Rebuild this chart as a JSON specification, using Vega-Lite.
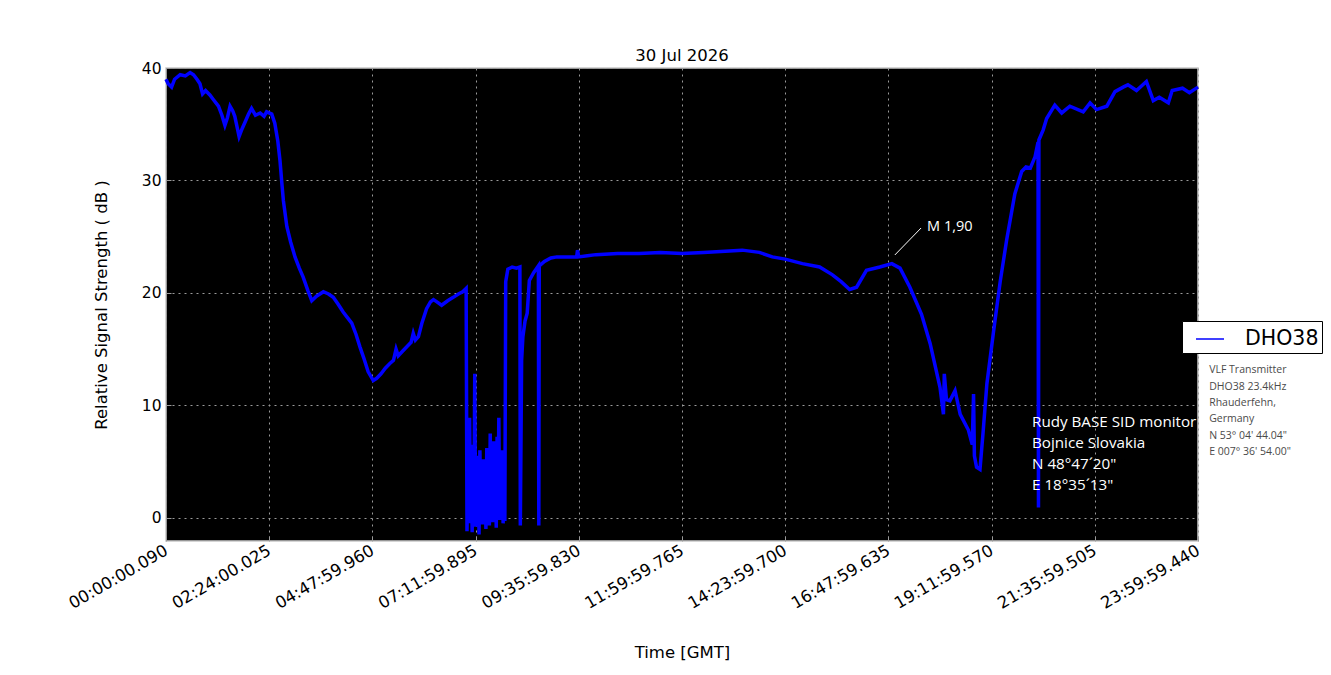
{
  "$schema": "https://vega.github.io/schema/vega-lite/v6.json",
  "description": "VLF SID monitor, DHO38 signal strength, 30 Jul 2026",
  "autosize": {"type": "none"},
  "padding": {"left": 166, "top": 68, "right": 133, "bottom": 134},
  "width": 1032,
  "height": 473,
  "background": "white",
  "title": {"text": "30 Jul 2026", "font": "DejaVu Sans", "fontSize": 16.5, "fontWeight": "normal", "color": "black", "offset": -3},
  "config": {
    "view": {"fill": "black", "stroke": "#c8c8c8", "strokeWidth": 1.5},
    "axis": {
      "labelFont": "DejaVu Sans",
      "labelFontSize": 15.5,
      "labelColor": "black",
      "titleFont": "DejaVu Sans",
      "titleFontSize": 16.5,
      "titleFontWeight": "normal",
      "titleColor": "black",
      "domain": false,
      "grid": true,
      "gridColor": "#9a9a9a",
      "gridDash": [2, 4],
      "gridWidth": 1,
      "tickColor": "#9a9a9a",
      "tickSize": -5
    }
  },
  "layer": [
    {
      "data": {
        "values": [
          {"h": 0.00, "v": 39.0}, {"h": 0.05, "v": 38.6}, {"h": 0.13, "v": 38.3}, {"h": 0.20, "v": 39.0},
          {"h": 0.33, "v": 39.4}, {"h": 0.45, "v": 39.3}, {"h": 0.56, "v": 39.6}, {"h": 0.64, "v": 39.4},
          {"h": 0.72, "v": 39.0}, {"h": 0.79, "v": 38.6}, {"h": 0.85, "v": 37.7}, {"h": 0.92, "v": 38.0},
          {"h": 1.02, "v": 37.6}, {"h": 1.10, "v": 37.2}, {"h": 1.22, "v": 36.6}, {"h": 1.30, "v": 35.8},
          {"h": 1.37, "v": 34.9}, {"h": 1.43, "v": 35.6}, {"h": 1.49, "v": 36.6}, {"h": 1.55, "v": 36.2},
          {"h": 1.60, "v": 35.7}, {"h": 1.65, "v": 34.8}, {"h": 1.70, "v": 33.9}, {"h": 1.77, "v": 34.6},
          {"h": 1.84, "v": 35.2}, {"h": 1.92, "v": 35.9}, {"h": 1.99, "v": 36.4}, {"h": 2.08, "v": 35.8},
          {"h": 2.19, "v": 36.0}, {"h": 2.28, "v": 35.7}, {"h": 2.34, "v": 36.1}, {"h": 2.46, "v": 35.9},
          {"h": 2.53, "v": 35.1}, {"h": 2.60, "v": 33.5}, {"h": 2.65, "v": 31.8}, {"h": 2.70, "v": 29.5},
          {"h": 2.73, "v": 28.2}, {"h": 2.81, "v": 25.9}, {"h": 2.90, "v": 24.5}, {"h": 3.00, "v": 23.2},
          {"h": 3.10, "v": 22.2}, {"h": 3.19, "v": 21.4}, {"h": 3.30, "v": 20.2}, {"h": 3.39, "v": 19.3},
          {"h": 3.50, "v": 19.7}, {"h": 3.66, "v": 20.1}, {"h": 3.78, "v": 19.9}, {"h": 3.89, "v": 19.6},
          {"h": 4.00, "v": 19.0}, {"h": 4.12, "v": 18.3}, {"h": 4.22, "v": 17.8}, {"h": 4.32, "v": 17.3},
          {"h": 4.42, "v": 16.3}, {"h": 4.51, "v": 15.2}, {"h": 4.60, "v": 14.2}, {"h": 4.70, "v": 13.0},
          {"h": 4.82, "v": 12.2}, {"h": 4.90, "v": 12.4}, {"h": 5.00, "v": 12.8}, {"h": 5.10, "v": 13.3},
          {"h": 5.20, "v": 13.7}, {"h": 5.29, "v": 14.0}, {"h": 5.35, "v": 15.0}, {"h": 5.40, "v": 14.4},
          {"h": 5.50, "v": 14.8}, {"h": 5.60, "v": 15.2}, {"h": 5.70, "v": 15.6}, {"h": 5.75, "v": 16.4},
          {"h": 5.80, "v": 15.8}, {"h": 5.87, "v": 16.1}, {"h": 5.95, "v": 17.3}, {"h": 6.06, "v": 18.6},
          {"h": 6.15, "v": 19.2}, {"h": 6.22, "v": 19.4}, {"h": 6.30, "v": 19.2}, {"h": 6.41, "v": 18.9},
          {"h": 6.55, "v": 19.3}, {"h": 6.68, "v": 19.6}, {"h": 6.80, "v": 19.9}, {"h": 6.90, "v": 20.1},
          {"h": 6.98, "v": 20.4}, {"h": 7.00, "v": -1.2}, {"h": 7.02, "v": 5.0}, {"h": 7.04, "v": -0.5},
          {"h": 7.06, "v": 8.9}, {"h": 7.08, "v": 0.2}, {"h": 7.10, "v": 4.0}, {"h": 7.12, "v": -1.3},
          {"h": 7.14, "v": 6.5}, {"h": 7.16, "v": 0.0}, {"h": 7.18, "v": 12.8}, {"h": 7.20, "v": -0.8},
          {"h": 7.22, "v": 5.5}, {"h": 7.24, "v": 0.3}, {"h": 7.26, "v": 3.8}, {"h": 7.28, "v": -1.5},
          {"h": 7.30, "v": 6.0}, {"h": 7.32, "v": 0.5}, {"h": 7.34, "v": 4.5}, {"h": 7.36, "v": -0.6},
          {"h": 7.38, "v": 5.2}, {"h": 7.40, "v": 0.1}, {"h": 7.42, "v": 3.5}, {"h": 7.44, "v": -1.0},
          {"h": 7.46, "v": 6.2}, {"h": 7.48, "v": 0.4}, {"h": 7.50, "v": 4.8}, {"h": 7.52, "v": -0.7},
          {"h": 7.54, "v": 7.5}, {"h": 7.56, "v": 0.0}, {"h": 7.58, "v": 4.2}, {"h": 7.60, "v": -0.4},
          {"h": 7.62, "v": 6.8}, {"h": 7.64, "v": 0.3}, {"h": 7.66, "v": 5.5}, {"h": 7.68, "v": -0.9},
          {"h": 7.70, "v": 7.2}, {"h": 7.72, "v": 0.6}, {"h": 7.74, "v": 8.9}, {"h": 7.76, "v": -0.2},
          {"h": 7.78, "v": 5.8}, {"h": 7.80, "v": 0.0}, {"h": 7.82, "v": 6.0}, {"h": 7.84, "v": -0.5},
          {"h": 7.86, "v": 4.0}, {"h": 7.88, "v": -0.3}, {"h": 7.90, "v": 21.0}, {"h": 7.95, "v": 22.1},
          {"h": 8.05, "v": 22.3}, {"h": 8.15, "v": 22.2}, {"h": 8.23, "v": 22.3}, {"h": 8.24, "v": -0.7},
          {"h": 8.27, "v": 14.0}, {"h": 8.30, "v": 16.1}, {"h": 8.35, "v": 17.5}, {"h": 8.40, "v": 18.2},
          {"h": 8.45, "v": 21.1}, {"h": 8.55, "v": 21.8}, {"h": 8.66, "v": 22.4}, {"h": 8.67, "v": -0.7},
          {"h": 8.68, "v": 22.4}, {"h": 8.80, "v": 22.8}, {"h": 8.95, "v": 23.1}, {"h": 9.09, "v": 23.2},
          {"h": 9.30, "v": 23.2}, {"h": 9.55, "v": 23.2}, {"h": 9.57, "v": 23.8}, {"h": 9.60, "v": 23.2},
          {"h": 9.80, "v": 23.3}, {"h": 10.00, "v": 23.4}, {"h": 10.50, "v": 23.5}, {"h": 11.00, "v": 23.5},
          {"h": 11.50, "v": 23.6}, {"h": 12.00, "v": 23.5}, {"h": 12.50, "v": 23.6}, {"h": 13.00, "v": 23.7},
          {"h": 13.40, "v": 23.8}, {"h": 13.80, "v": 23.6}, {"h": 14.10, "v": 23.2}, {"h": 14.40, "v": 23.0},
          {"h": 14.80, "v": 22.6}, {"h": 15.20, "v": 22.3}, {"h": 15.50, "v": 21.6}, {"h": 15.70, "v": 21.0},
          {"h": 15.90, "v": 20.3}, {"h": 16.06, "v": 20.5}, {"h": 16.29, "v": 22.0}, {"h": 16.60, "v": 22.3},
          {"h": 16.88, "v": 22.6}, {"h": 17.07, "v": 22.2}, {"h": 17.30, "v": 20.5}, {"h": 17.57, "v": 18.1},
          {"h": 17.77, "v": 15.5}, {"h": 18.00, "v": 11.6}, {"h": 18.08, "v": 9.2}, {"h": 18.10, "v": 12.8},
          {"h": 18.15, "v": 10.5}, {"h": 18.23, "v": 10.4}, {"h": 18.35, "v": 11.3}, {"h": 18.47, "v": 9.2},
          {"h": 18.66, "v": 7.8}, {"h": 18.75, "v": 6.5}, {"h": 18.78, "v": 11.0}, {"h": 18.80, "v": 5.5},
          {"h": 18.85, "v": 4.5}, {"h": 18.93, "v": 4.3}, {"h": 19.00, "v": 7.5}, {"h": 19.09, "v": 11.9},
          {"h": 19.24, "v": 16.4}, {"h": 19.40, "v": 21.0}, {"h": 19.55, "v": 24.7}, {"h": 19.74, "v": 28.8},
          {"h": 19.90, "v": 30.8}, {"h": 20.00, "v": 31.2}, {"h": 20.10, "v": 31.1}, {"h": 20.21, "v": 32.1},
          {"h": 20.28, "v": 33.4}, {"h": 20.29, "v": 0.9}, {"h": 20.30, "v": 33.6}, {"h": 20.40, "v": 34.5},
          {"h": 20.48, "v": 35.5}, {"h": 20.67, "v": 36.7}, {"h": 20.83, "v": 36.0}, {"h": 21.02, "v": 36.6},
          {"h": 21.33, "v": 36.1}, {"h": 21.49, "v": 36.9}, {"h": 21.64, "v": 36.3}, {"h": 21.88, "v": 36.6},
          {"h": 22.07, "v": 37.9}, {"h": 22.26, "v": 38.3}, {"h": 22.37, "v": 38.5}, {"h": 22.57, "v": 38.0},
          {"h": 22.80, "v": 38.8}, {"h": 22.96, "v": 37.1}, {"h": 23.10, "v": 37.4}, {"h": 23.31, "v": 36.9},
          {"h": 23.40, "v": 38.0}, {"h": 23.64, "v": 38.2}, {"h": 23.80, "v": 37.8}, {"h": 24.00, "v": 38.3}
        ]
      },
      "transform": [{"calculate": "'DHO38'", "as": "station"}],
      "mark": {"type": "line", "strokeWidth": 3.5, "interpolate": "linear"},
      "encoding": {
        "x": {
          "field": "h",
          "type": "quantitative",
          "title": "Time [GMT]",
          "scale": {"domain": [0, 24], "nice": false, "zero": false},
          "axis": {
            "values": [0, 2.4, 4.8, 7.2, 9.6, 12, 14.4, 16.8, 19.2, 21.6, 24],
            "labelExpr": "['00:00:00.090','02:24:00.025','04:47:59.960','07:11:59.895','09:35:59.830','11:59:59.765','14:23:59.700','16:47:59.635','19:11:59.570','21:35:59.505','23:59:59.440'][round(datum.value / 2.4)]",
            "labelAngle": -30,
            "labelAlign": "right",
            "labelBaseline": "middle",
            "labelFontSize": 16.5,
            "labelPadding": 13,
            "labelOverlap": false,
            "titlePadding": 33
          }
        },
        "y": {
          "field": "v",
          "type": "quantitative",
          "title": "Relative Signal Strength ( dB )",
          "scale": {"domain": [-2.07, 40], "nice": false, "zero": false},
          "axis": {"values": [0, 10, 20, 30, 40], "labelPadding": 10, "titlePadding": 32}
        },
        "color": {
          "field": "station",
          "type": "nominal",
          "scale": {"range": ["#0000ff"]},
          "legend": {
            "title": null,
            "orient": "none",
            "legendX": 1016,
            "legendY": 253,
            "symbolType": "stroke",
            "symbolSize": 784,
            "symbolStrokeWidth": 1.5,
            "symbolOffset": 10,
            "labelFont": "DejaVu Sans",
            "labelFontSize": 20.5,
            "labelColor": "black",
            "labelOffset": 20,
            "padding": 3,
            "fillColor": "white",
            "strokeColor": "black",
            "cornerRadius": 0
          }
        }
      }
    },
    {
      "data": {"values": [{"h": 16.95, "v": 23.37, "h2": 17.56, "v2": 25.77}]},
      "mark": {"type": "rule", "color": "white", "strokeWidth": 1},
      "encoding": {
        "x": {"field": "h", "type": "quantitative"},
        "y": {"field": "v", "type": "quantitative"},
        "x2": {"field": "h2"},
        "y2": {"field": "v2"}
      }
    },
    {
      "data": {"values": [{"h": 17.7, "v": 25.85, "note": "M 1,90"}]},
      "mark": {"type": "text", "align": "left", "baseline": "middle", "color": "white", "font": "Open Sans", "fontSize": 14.5},
      "encoding": {
        "x": {"field": "h", "type": "quantitative"},
        "y": {"field": "v", "type": "quantitative"},
        "text": {"field": "note"}
      }
    },
    {
      "data": {"values": [{"h": 20.14, "v": 9.13, "note": "Rudy BASE SID monitor|Bojnice Slovakia|N 48°47´20\"|E 18°35´13\""}]},
      "mark": {"type": "text", "align": "left", "baseline": "top", "color": "white", "font": "Open Sans", "fontSize": 15.2, "lineBreak": "|", "lineHeight": 21},
      "encoding": {
        "x": {"field": "h", "type": "quantitative"},
        "y": {"field": "v", "type": "quantitative"},
        "text": {"field": "note"}
      }
    },
    {
      "data": {"values": [{"h": 24.26, "v": 13.56, "note": "VLF Transmitter|DHO38 23.4kHz|Rhauderfehn,|Germany|N 53° 04' 44.04\"|E 007° 36' 54.00\""}]},
      "mark": {"type": "text", "align": "left", "baseline": "top", "color": "#4a4a4a", "font": "Open Sans", "fontSize": 10.5, "lineBreak": "|", "lineHeight": 16.4, "clip": false},
      "encoding": {
        "x": {"field": "h", "type": "quantitative"},
        "y": {"field": "v", "type": "quantitative"},
        "text": {"field": "note"}
      }
    }
  ]
}
